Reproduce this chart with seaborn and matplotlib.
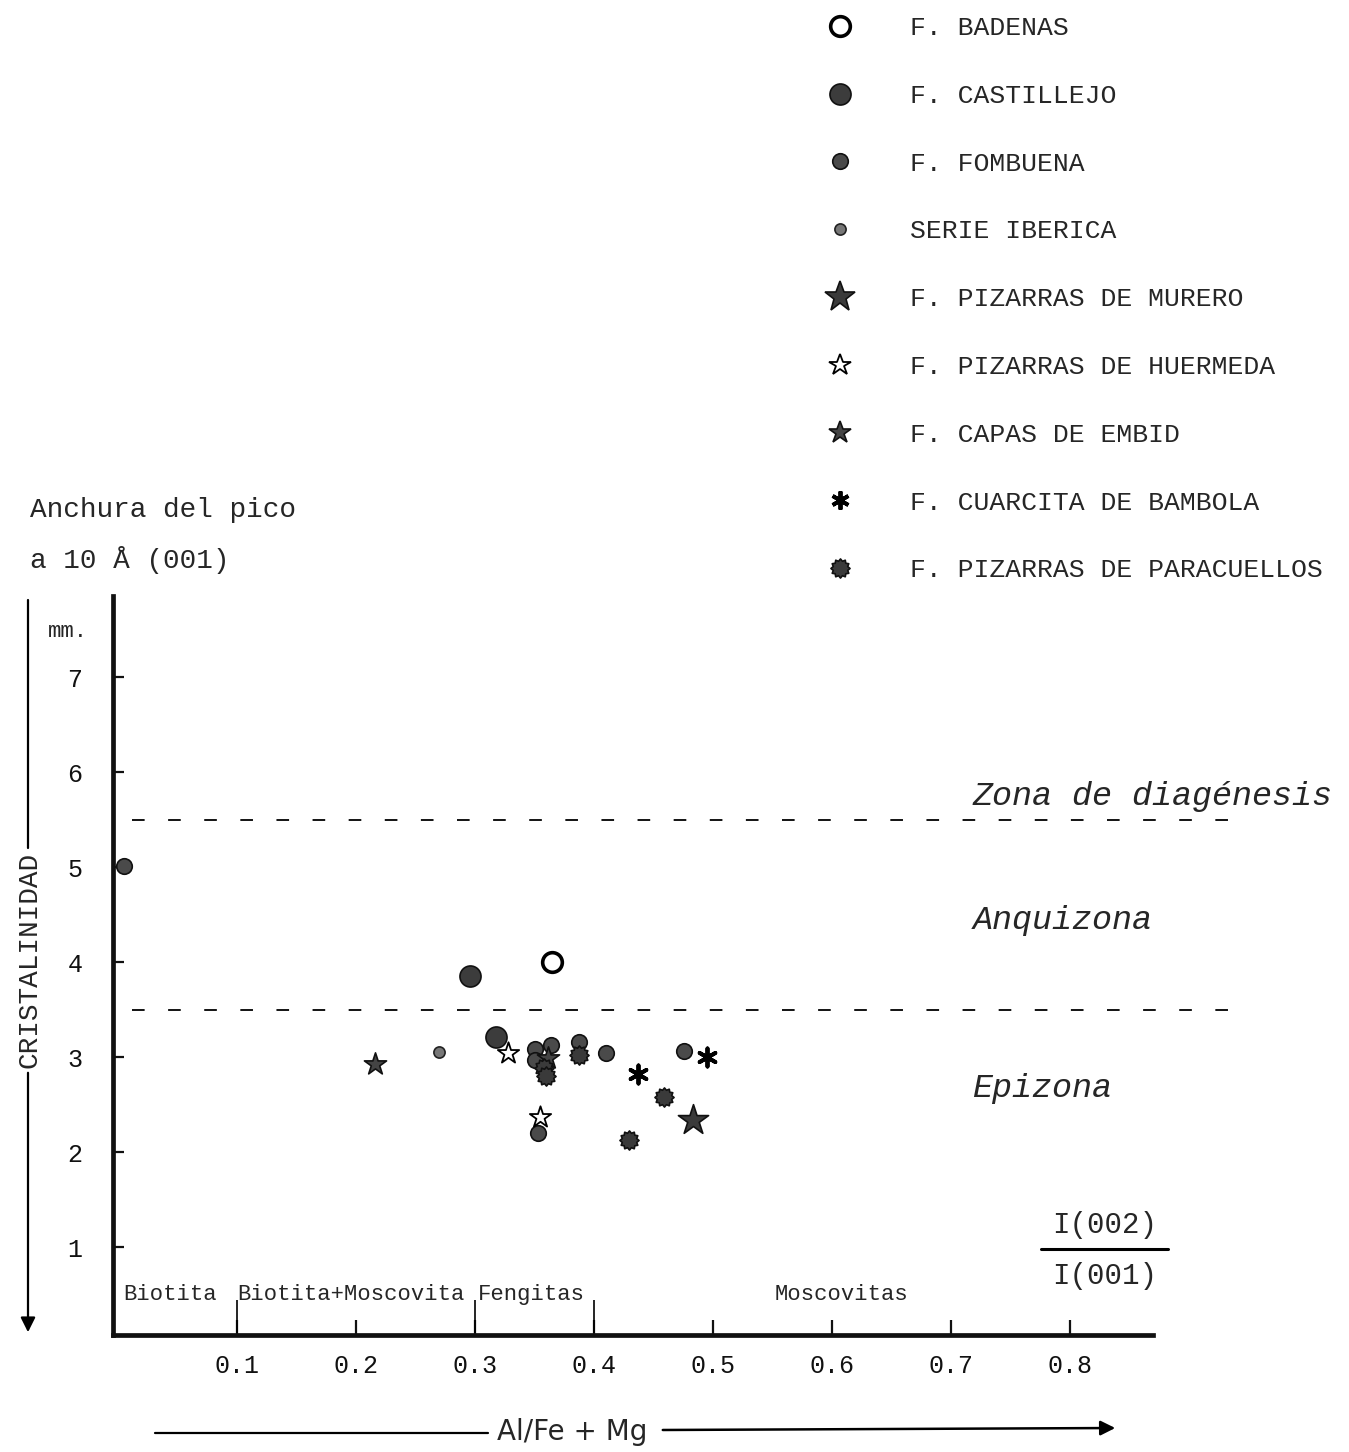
import numpy as np
import pandas as pd
import matplotlib
matplotlib.use("Agg")
import matplotlib.pyplot as plt
import seaborn as sns
from matplotlib.path import Path
from matplotlib.lines import Line2D

# ---------------- data ----------------
groups = ["F. BADENAS", "F. CASTILLEJO", "F. FOMBUENA", "SERIE IBERICA",
          "F. PIZARRAS DE MURERO", "F. PIZARRAS DE HUERMEDA", "F. CAPAS DE EMBID",
          "F. CUARCITA DE BAMBOLA", "F. PIZARRAS DE PARACUELLOS"]

badenas_x = [0.365]
badenas_y = [4.00]
castillejo_x = [0.296, 0.318]
castillejo_y = [3.85, 3.21]
fombuena_x = [0.005, 0.350, 0.350, 0.364, 0.387, 0.410, 0.476, 0.353]
fombuena_y = [5.01, 3.08, 2.97, 3.13, 3.16, 3.04, 3.06, 2.20]
serie_x = [0.270]
serie_y = [3.05]
murero_x = [0.483]
murero_y = [2.34]
huermeda_x = [0.328, 0.355]
huermeda_y = [3.04, 2.37]
embid_x = [0.216, 0.361]
embid_y = [2.93, 2.99]
bambola_x = [0.495, 0.437]
bambola_y = [3.00, 2.82]
paracuellos_x = [0.358, 0.360, 0.387, 0.459, 0.429]
paracuellos_y = [2.88, 2.80, 3.02, 2.58, 2.13]

zone_limits = [5.5, 3.5]
zone_names = ["Zona de diagénesis", "Anquizona", "Epizona"]
zone_label_y = [5.74, 4.44, 2.67]

mica_names = ["Biotita", "Biotita+Moscovita", "Fengitas", "Moscovitas"]
mica_label_x = [0.004, 0.100, 0.302, 0.552]
mica_bounds = [0.1, 0.3, 0.4]

x_ticks = [0.1, 0.2, 0.3, 0.4, 0.5, 0.6, 0.7, 0.8]
x_ticklabels = ["0.1", "0.2", "0.3", "0.4", "0.5", "0.6", "0.7", "0.8"]
y_ticks = [1, 2, 3, 4, 5, 6, 7]
y_ticklabels = ["1", "2", "3", "4", "5", "6", "7"]

frames = []
for g, xs, ys in zip(groups,
                     [badenas_x, castillejo_x, fombuena_x, serie_x, murero_x,
                      huermeda_x, embid_x, bambola_x, paracuellos_x],
                     [badenas_y, castillejo_y, fombuena_y, serie_y, murero_y,
                      huermeda_y, embid_y, bambola_y, paracuellos_y]):
    frames.append(pd.DataFrame({"x": xs, "y": ys, "group": g}))
df = pd.concat(frames, ignore_index=True)

# ---------------- styles ----------------
n = 12
ang = np.linspace(0, 2 * np.pi, 2 * n, endpoint=False)
rad = np.where(np.arange(2 * n) % 2 == 0, 1.0, 0.78)
verts = np.column_stack([rad * np.sin(ang), rad * np.cos(ang)])
verts = np.vstack([verts, verts[:1]])
codes = [Path.MOVETO] + [Path.LINETO] * (2 * n - 1) + [Path.CLOSEPOLY]
flower = Path(verts, codes)

style = {
    "F. BADENAS": dict(marker="o", s=200, fc="white", ec="black", lw=2.6),
    "F. CASTILLEJO": dict(marker="o", s=230, fc="#3c3c3c", ec="#111111", lw=1.2),
    "F. FOMBUENA": dict(marker="o", s=125, fc="#4a4a4a", ec="#111111", lw=1.2),
    "SERIE IBERICA": dict(marker="o", s=65, fc="#777777", ec="#222222", lw=1.2),
    "F. PIZARRAS DE MURERO": dict(marker="*", s=520, fc="#3a3a3a", ec="#111111", lw=1.2),
    "F. PIZARRAS DE HUERMEDA": dict(marker="*", s=260, fc="white", ec="black", lw=1.3),
    "F. CAPAS DE EMBID": dict(marker="*", s=280, fc="#444444", ec="#111111", lw=1.2),
    "F. CUARCITA DE BAMBOLA": dict(marker=(6, 2, 0), s=170, fc="black", ec="black", lw=2.8),
    "F. PIZARRAS DE PARACUELLOS": dict(marker=flower, s=190, fc="#3a3a3a", ec="#111111", lw=1.2),
}

sns.set_style("white")
plt.rcParams["font.family"] = ["Liberation Mono", "DejaVu Sans"]
mono = "Liberation Mono"

fig = plt.figure(figsize=(13.49, 14.52), dpi=100)
W, H = 1349.0, 1452.0
ax = fig.add_axes([113 / W, (H - 1335) / H, (1153 - 113) / W, (1335 - 596) / H])

for g in groups:
    st = style[g]
    sub = df[df["group"] == g]
    sns.scatterplot(data=sub, x="x", y="y", ax=ax, marker=st["marker"], s=st["s"],
                    color=st["fc"], edgecolor=st["ec"], linewidth=st["lw"],
                    legend=False, zorder=3, clip_on=False)

ax.set_xlim(-0.0042, 0.8697)
ax.set_ylim(0.0737, 7.853)
ax.set_xlabel("")
ax.set_ylabel("")

for sp in ["top", "right"]:
    ax.spines[sp].set_visible(False)
for sp in ["left", "bottom"]:
    ax.spines[sp].set_linewidth(3.4)
    ax.spines[sp].set_color("#111111")

ax.set_xticks(x_ticks)
ax.set_xticklabels(x_ticklabels, fontfamily=mono, fontsize=18)
ax.set_yticks(y_ticks)
ax.set_yticklabels(y_ticklabels, fontfamily=mono, fontsize=18)
ax.tick_params(axis="x", bottom=True, direction="in", length=11, width=1.6, pad=14,
               colors="#111111")
ax.tick_params(axis="y", left=True, direction="in", length=8, width=1.6, pad=22,
               colors="#111111")

# zone limits
ax.hlines(zone_limits, 0.012, 0.948, colors="black", linewidth=1.3,
          linestyles=(0, (7, 13)), clip_on=False, zorder=2)
for name, yy in zip(zone_names, zone_label_y):
    ax.text(0.718, yy, name, fontfamily=mono, fontstyle="italic", fontsize=24,
            va="center", ha="left", clip_on=False)

# mica fields
for name, xx in zip(mica_names, mica_label_x):
    ax.text(xx, 0.505, name, fontfamily=mono, fontsize=16, va="center", ha="left")
ax.vlines(mica_bounds, 0.10, 0.44, colors="black", linewidth=1.2)

# fraction
ax.text(0.829, 1.23, "I(002)", fontfamily=mono, fontsize=21, ha="center", va="center")
ax.plot([0.776, 0.882], [0.98, 0.98], color="black", lw=2.2, clip_on=False)
ax.text(0.829, 0.695, "I(001)", fontfamily=mono, fontsize=21, ha="center", va="center")

# y label block
fig.text(30 / W, 1 - 510 / H, "Anchura del pico", fontfamily=mono, fontsize=20,
         va="center", ha="left")
fig.text(30 / W, 1 - 560 / H, "a 10 Å (001)", fontfamily=mono, fontsize=20,
         va="center", ha="left")
fig.text(48 / W, 1 - 632 / H, "mm.", fontfamily=mono, fontsize=16, va="center", ha="left")
fig.text(30 / W, 1 - 960 / H, "CRISTALINIDAD", fontfamily=mono, fontsize=20,
         rotation=90, va="center", ha="center")
fig.add_artist(Line2D([28 / W, 28 / W], [1 - 600 / H, 1 - 848 / H], color="black",
                      lw=1.6, transform=fig.transFigure))
ax.annotate("", xy=(28 / W, 1 - 1335 / H), xycoords="figure fraction",
            xytext=(28 / W, 1 - 1070 / H), textcoords="figure fraction",
            arrowprops=dict(arrowstyle="-|>", color="black", lw=1.6, mutation_scale=22))

# x label block
fig.text(572 / W, 1 - 1432 / H, "Al/Fe + Mg", fontfamily="DejaVu Sans", fontsize=20,
         va="center", ha="center")
fig.add_artist(Line2D([155 / W, 488 / W], [1 - 1433 / H, 1 - 1433 / H], color="black",
                      lw=1.6, transform=fig.transFigure))
ax.annotate("", xy=(1118 / W, 1 - 1428 / H), xycoords="figure fraction",
            xytext=(660 / W, 1 - 1430 / H), textcoords="figure fraction",
            arrowprops=dict(arrowstyle="-|>", color="black", lw=1.8, mutation_scale=22))

# legend
handles = []
for g in groups:
    st = style[g]
    handles.append(Line2D([], [], linestyle="", marker=st["marker"],
                          markersize=np.sqrt(st["s"]), markerfacecolor=st["fc"],
                          markeredgecolor=st["ec"], markeredgewidth=st["lw"]))
fig.legend(handles, groups, loc="upper left", bbox_to_anchor=(813.6 / W, 1 - 16 / H),
           frameon=False, prop=dict(family=mono, size=19), labelspacing=1.66,
           handlelength=2.0, handletextpad=1.65, borderpad=0, borderaxespad=0)

fig.savefig("out.png", dpi=100)
